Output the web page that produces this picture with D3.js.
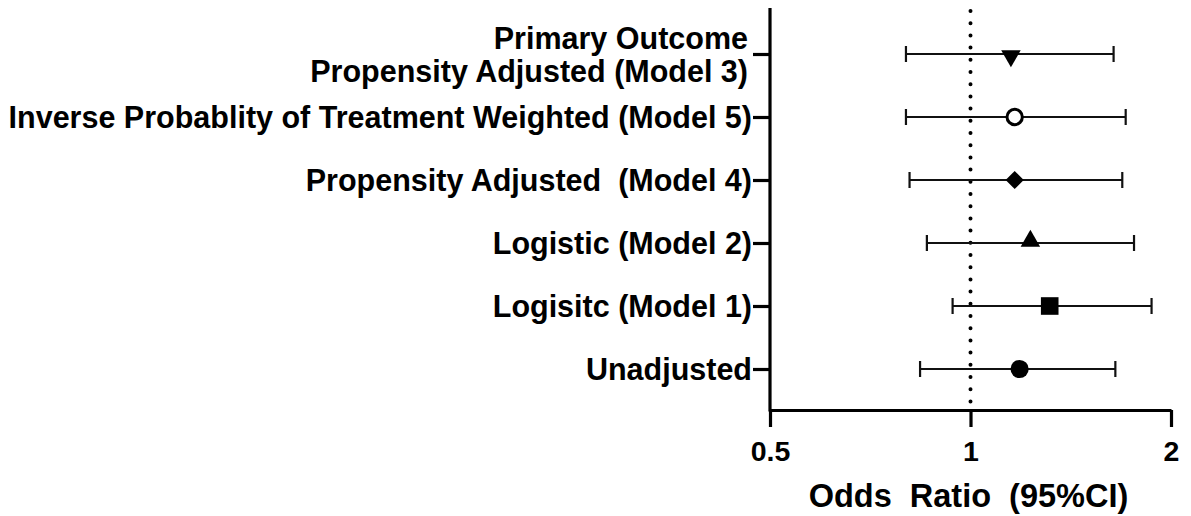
<!DOCTYPE html>
<meta charset="utf-8">
<style>
  body { margin: 0; background: #fff; }
  text { font-family: "Liberation Sans", Arial, sans-serif; font-weight: bold; fill: #000; }
</style>
<script src="https://d3js.org/d3.v7.min.js"></script>
<div id="chart"></div>
<script>

// rows, top to bottom
var labels = [
  ["Primary Outcome", "Propensity Adjusted (Model 3)"],
  ["Inverse Probablity of Treatment Weighted (Model 5)"],
  ["Propensity Adjusted  (Model 4)"],
  ["Logistic (Model 2)"],
  ["Logisitc (Model 1)"],
  ["Unadjusted"]
];
var oddsRatio = [1.15, 1.165, 1.165, 1.23, 1.315, 1.185];
var ciLow     = [0.80, 0.80, 0.81, 0.86, 0.94, 0.84];
var ciHigh    = [1.64, 1.71, 1.69, 1.76, 1.87, 1.65];
var markers   = ["triangleDown", "circleOpen", "diamond", "triangle", "square", "circle"];

var xTicks = [0.5, 1, 2];
var xTitle = "Odds  Ratio  (95%CI)";

var width = 1191, height = 516;

var svg = d3.select("#chart").append("svg")
    .attr("width", width)
    .attr("height", height);

var x = d3.scaleLog()
    .domain([0.5, 2])
    .range([770, 1171]);

var rows = d3.range(labels.length);
var y = d3.scalePoint()
    .domain(rows)
    .range([54, 369]);

var axisY = 410;   // where the x axis sits
var axisTop = 8;

// reference line at OR = 1
svg.append("line")
    .attr("x1", x(1)).attr("x2", x(1))
    .attr("y1", axisTop + 3).attr("y2", axisY)
    .attr("stroke", "#000")
    .attr("stroke-width", 4)
    .attr("stroke-linecap", "round")
    .attr("stroke-dasharray", "0,12.2");

// x axis
var xAxis = svg.append("g")
    .attr("transform", "translate(0," + axisY + ")")
    .call(d3.axisBottom(x).tickValues(xTicks).tickSize(17).tickSizeOuter(0).tickFormat(d3.format("")));
xAxis.select(".domain").attr("stroke-width", 3.2);
xAxis.selectAll(".tick line").attr("stroke-width", 3.2);
xAxis.selectAll(".tick text")
    .attr("y", 0)
    .attr("dy", null)
    .attr("transform", "translate(0,51)")
    .style("font-size", "28.5px");

// y axis
var yAxis = svg.append("g")
    .attr("transform", "translate(" + x.range()[0] + ",0)")
    .call(d3.axisLeft(y).tickSize(17).tickSizeOuter(0).tickFormat(""));
yAxis.select(".domain")
    .attr("d", "M0," + axisTop + "V" + (axisY + 1.6))
    .attr("stroke-width", 3.2);
yAxis.selectAll(".tick line").attr("stroke-width", 3.2);

// row labels
var labelG = svg.append("g").style("font-size", "30.5px");
rows.forEach(function(i) {
  var lines = labels[i];
  if (lines.length == 1) {
    labelG.append("text")
        .attr("x", x.range()[0] - 18)
        .attr("y", y(i))
        .attr("dy", "0.36em")
        .attr("text-anchor", "end")
        .style("white-space", "pre")
        .text(lines[0]);
  } else {
    // two-line label: first line sits above the tick, second below
    labelG.append("text")
        .attr("x", x.range()[0] - 22)
        .attr("y", y(i) - 5)
        .attr("text-anchor", "end")
        .text(lines[0]);
    labelG.append("text")
        .attr("x", x.range()[0] - 22)
        .attr("y", y(i) + 28)
        .attr("text-anchor", "end")
        .text(lines[1]);
  }
});

// error bars
var bars = svg.append("g")
    .attr("stroke", "#111")
    .attr("stroke-width", 2.2);
rows.forEach(function(i) {
  bars.append("line")
      .attr("x1", x(ciLow[i])).attr("x2", x(ciHigh[i]))
      .attr("y1", y(i)).attr("y2", y(i));
  [ciLow[i], ciHigh[i]].forEach(function(v) {
    bars.append("line")
        .attr("x1", x(v)).attr("x2", x(v))
        .attr("y1", y(i) - 8).attr("y2", y(i) + 8);
  });
});

// point markers
var symbolFor = {
  triangleDown: { type: d3.symbolTriangle, size: 165, rot: 180 },
  triangle:     { type: d3.symbolTriangle, size: 165, rot: 0 },
  circle:       { type: d3.symbolCircle, size: 260, rot: 0 },
  circleOpen:   { type: d3.symbolCircle, size: 185, rot: 0 },
  square:       { type: d3.symbolSquare, size: 310, rot: 0 },
  diamond:      { type: d3.symbolSquare, size: 165, rot: 45 }
};
rows.forEach(function(i) {
  var s = symbolFor[markers[i]];
  var open = markers[i] == "circleOpen";
  var dy = markers[i] == "triangle" ? -2 : (markers[i] == "triangleDown" ? 2 : 0);
  svg.append("path")
      .attr("d", d3.symbol().type(s.type).size(s.size)())
      .attr("transform", "translate(" + x(oddsRatio[i]) + "," + (y(i) + dy) + ") rotate(" + s.rot + ")")
      .attr("fill", open ? "#fff" : "#000")
      .attr("stroke", "#000")
      .attr("stroke-width", open ? 3 : 0);
});

// x axis title
svg.append("text")
    .attr("x", x(1) - 2)
    .attr("y", 507)
    .attr("text-anchor", "middle")
    .style("font-size", "32.5px")
    .style("white-space", "pre")
    .text(xTitle);

</script>
